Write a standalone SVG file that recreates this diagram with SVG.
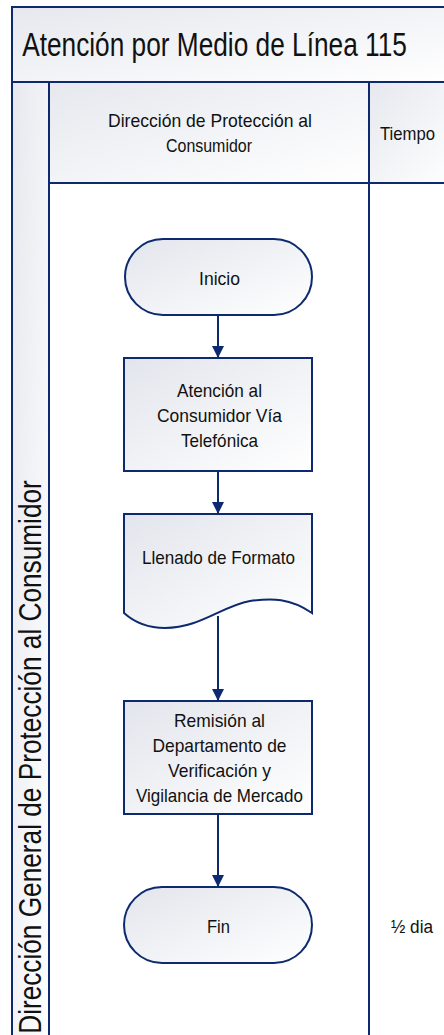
<svg xmlns="http://www.w3.org/2000/svg" width="444" height="1035" viewBox="0 0 444 1035">
<defs>
<linearGradient id="g" x1="0" y1="0" x2="1" y2="1">
<stop offset="0" stop-color="#e2e5ec"/>
<stop offset="1" stop-color="#ffffff"/>
</linearGradient>
<linearGradient id="gh" x1="0" y1="0" x2="1" y2="1">
<stop offset="0" stop-color="#e6e8ee"/>
<stop offset="1" stop-color="#ffffff"/>
</linearGradient>
<marker id="arr" markerWidth="12" markerHeight="12" refX="12" refY="6" orient="auto" markerUnits="userSpaceOnUse">
<path d="M0,0 L12,6 L0,12 Z" fill="#0d2a6e"/>
</marker>
<style>
.ln{fill:none;stroke:#0d2a6e;stroke-width:2}
.sh{fill:url(#g);stroke:#0d2a6e;stroke-width:2}
.t{font-family:"Liberation Sans",Arial,sans-serif;fill:#111;text-anchor:middle;font-size:19px}
.c{stroke:#0d2a6e;stroke-width:2;fill:none;marker-end:url(#arr)}
</style>
</defs>
<g id="pool">
<rect x="12" y="7" width="440" height="1040" fill="#fff" class="ln"/>
<rect x="12" y="7" width="440" height="75" fill="url(#gh)" stroke="#0d2a6e" stroke-width="2"/>
<rect x="12" y="82" width="37" height="965" fill="url(#gh)" stroke="#0d2a6e" stroke-width="2"/>
<rect x="49" y="82" width="320" height="101" fill="url(#gh)" stroke="#0d2a6e" stroke-width="2"/>
<rect x="369" y="82" width="90" height="101" fill="url(#gh)" stroke="#0d2a6e" stroke-width="2"/>
<line x1="369" y1="183" x2="369" y2="1040" class="ln"/>
<text transform="translate(214.5,56) scale(0.75,1)" x="0" y="0" class="t" style="font-size:33px" textLength="513" lengthAdjust="spacingAndGlyphs">Atención por Medio de Línea 115</text>
<text x="210" y="127" class="t" textLength="204" lengthAdjust="spacingAndGlyphs">Dirección de Protección al</text>
<text x="209" y="152" class="t" textLength="86" lengthAdjust="spacingAndGlyphs">Consumidor</text>
<text x="407.5" y="140" class="t" textLength="55" lengthAdjust="spacingAndGlyphs">Tiempo</text>
<text transform="translate(41,757) rotate(-90) scale(0.8,1)" x="0" y="0" class="t" style="font-size:31px" textLength="692" lengthAdjust="spacingAndGlyphs">Dirección General de Protección al Consumidor</text>
</g>
<g id="inicio">
<rect x="125" y="239" width="187" height="76" rx="38" ry="38" class="sh"/>
<text x="219.5" y="285" class="t" textLength="41" lengthAdjust="spacingAndGlyphs">Inicio</text>
</g>
<g id="atencion">
<rect x="124" y="358" width="188" height="113" class="sh"/>
<text x="219.5" y="397" class="t" textLength="85" lengthAdjust="spacingAndGlyphs">Atención al</text>
<text x="219.5" y="422" class="t" textLength="125" lengthAdjust="spacingAndGlyphs">Consumidor Vía</text>
<text x="219.5" y="447" class="t" textLength="77" lengthAdjust="spacingAndGlyphs">Telefónica</text>
</g>
<g id="llenado">
<path d="M124,514 H312 V613 C290,598 272,598 250,601 C222,606 200,628 165,628 C146,628 134,622 124,613 Z" class="sh"/>
<text x="218.5" y="564" class="t" textLength="153" lengthAdjust="spacingAndGlyphs">Llenado de Formato</text>
</g>
<g id="remision">
<rect x="124" y="701" width="188" height="113" class="sh"/>
<text x="219.5" y="727" class="t" textLength="91" lengthAdjust="spacingAndGlyphs">Remisión al</text>
<text x="219.5" y="752" class="t" textLength="134" lengthAdjust="spacingAndGlyphs">Departamento de</text>
<text x="219.5" y="777" class="t" textLength="103" lengthAdjust="spacingAndGlyphs">Verificación y</text>
<text x="219.5" y="802" class="t" textLength="167" lengthAdjust="spacingAndGlyphs">Vigilancia de Mercado</text>
</g>
<g id="fin">
<rect x="124" y="887" width="188" height="76" rx="38" ry="38" class="sh"/>
<text x="218.5" y="933" class="t" textLength="23" lengthAdjust="spacingAndGlyphs">Fin</text>
</g>
<g id="tiempo">
<text x="412" y="933" class="t" textLength="42" lengthAdjust="spacingAndGlyphs">½ dia</text>
</g>
<g id="connectors">
<line x1="218" y1="315" x2="218" y2="358" class="c"/>
<line x1="218" y1="471" x2="218" y2="514" class="c"/>
<line x1="218" y1="616" x2="218" y2="701" class="c"/>
<line x1="218" y1="814" x2="218" y2="887" class="c"/>
</g>
</svg>
